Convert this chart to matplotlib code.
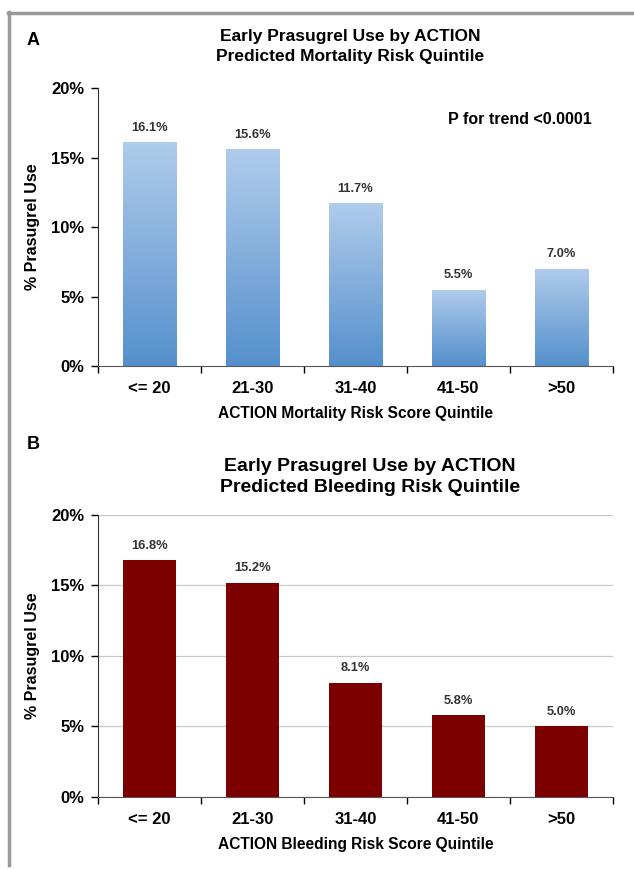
import matplotlib
matplotlib.use('Agg')
import matplotlib.pyplot as plt
import numpy as np
from matplotlib.lines import Line2D

plt.rcParams['font.family'] = ['Liberation Sans', 'DejaVu Sans']
plt.rcParams['font.weight'] = 'bold'

categories = ['<= 20', '21-30', '31-40', '41-50', '>50']
mortality_use = [16.1, 15.6, 11.7, 5.5, 7.0]
bleeding_use = [16.8, 15.2, 8.1, 5.8, 5.0]
y_ticks = [0, 5, 10, 15, 20]

fig = plt.figure(figsize=(6.34, 8.69), dpi=100)

# gray frame on the left and top
fig.add_artist(Line2D([0.0145, 0.0145], [0.005, 0.986], color='#9a9a9a', lw=2.5,
                      transform=fig.transFigure))
fig.add_artist(Line2D([0.0125, 1.0], [0.985, 0.985], color='#9a9a9a', lw=2.5,
                      transform=fig.transFigure))


def style_axis(ax, grid):
    x = np.arange(len(categories))
    ax.set_xlim(-0.5, len(categories) - 0.5)
    ax.set_ylim(0, 20)
    ax.set_yticks(y_ticks)
    ax.set_yticklabels([f'{t}%' for t in y_ticks], fontsize=12, fontweight='bold')
    ax.set_xticks(x)
    ax.set_xticklabels(categories, fontsize=12, fontweight='bold')
    ax.set_xticks(np.arange(len(categories) + 1) - 0.5, minor=True)
    ax.tick_params(axis='x', which='major', length=0, pad=11)
    ax.tick_params(axis='x', which='minor', length=5, width=1, direction='out')
    ax.tick_params(axis='y', length=5, width=1, direction='out', pad=5)
    for s in ['top', 'right']:
        ax.spines[s].set_visible(False)
    ax.spines['left'].set_color('#333333')
    ax.spines['bottom'].set_color('#555555')
    if grid:
        ax.yaxis.grid(True, color='#c8c8c8', lw=0.9)
        ax.set_axisbelow(True)
    ax.set_ylabel('% Prasugrel Use', fontsize=11.5, fontweight='bold')
    ax.yaxis.set_label_coords(-0.113, 0.5)


# Panel A
axA = fig.add_axes([0.1546, 0.5788, 0.812, 0.3199])
style_axis(axA, grid=False)
bars = axA.bar(np.arange(len(categories)), mortality_use, width=0.52,
               color='none', edgecolor='none')
grad = np.linspace(0, 1, 256).reshape(-1, 1)
cmap = matplotlib.colors.LinearSegmentedColormap.from_list('blu', ['#5590cc', '#b0ccec'])
for b in bars:
    xx = b.get_x()
    im = axA.imshow(grad, cmap=cmap, aspect='auto', origin='lower',
                    extent=[xx, xx + b.get_width(), 0, b.get_height()], zorder=2)
    im.set_clip_path(b)
axA.set_xlim(-0.5, len(categories) - 0.5)
axA.set_ylim(0, 20)
for i, v in enumerate(mortality_use):
    axA.text(i, v + 0.6, f'{v:.1f}%', ha='center', va='bottom', fontsize=9.3,
             fontweight='bold', color='#333333')
axA.text(3.6, 17.7, 'P for trend <0.0001', ha='center', va='center', fontsize=11.5,
         fontweight='bold')
axA.set_xlabel('ACTION Mortality Risk Score Quintile', fontsize=11.2, fontweight='bold',
               labelpad=7)
fig.text(0.552, 0.9465, 'Early Prasugrel Use by ACTION\nPredicted Mortality Risk Quintile',
         ha='center', va='center', fontsize=12.5, fontweight='bold', linespacing=1.45)
fig.text(0.042, 0.953, 'A', fontsize=13, fontweight='bold', va='center')

# Panel B
axB = fig.add_axes([0.1546, 0.0829, 0.812, 0.3245])
style_axis(axB, grid=True)
axB.bar(np.arange(len(categories)), bleeding_use, width=0.52, color='#7d0000', zorder=2)
for i, v in enumerate(bleeding_use):
    axB.text(i, v + 0.6, f'{v:.1f}%', ha='center', va='bottom', fontsize=9.3,
             fontweight='bold', color='#333333')
axB.set_xlabel('ACTION Bleeding Risk Score Quintile', fontsize=11.2, fontweight='bold',
               labelpad=7)
fig.text(0.583, 0.451, 'Early Prasugrel Use by ACTION\nPredicted Bleeding Risk Quintile',
         ha='center', va='center', fontsize=14, fontweight='bold', linespacing=1.3)
fig.text(0.042, 0.488, 'B', fontsize=13, fontweight='bold', va='center')

fig.savefig('out.png', dpi=100)
